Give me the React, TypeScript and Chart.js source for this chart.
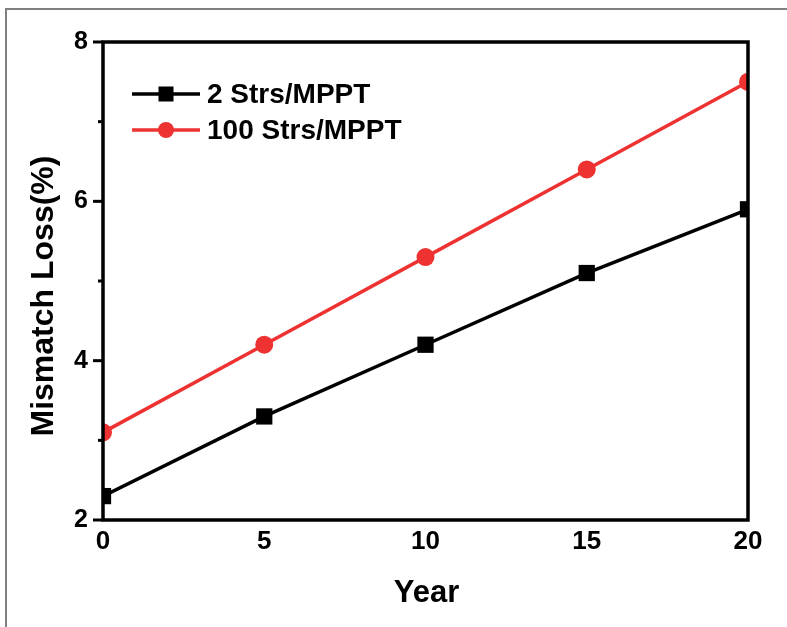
import React, { useEffect, useRef } from "react";
import { Chart, registerables } from "chart.js";

Chart.register(...registerables);

const years = [0, 5, 10, 15, 20];
const loss2Strs = [2.3, 3.3, 4.2, 5.1, 5.9];
const loss100Strs = [3.1, 4.2, 5.3, 6.4, 7.5];
const seriesNames = ["2 Strs/MPPT", "100 Strs/MPPT"];
const xTitle = "Year";
const yTitle = "Mismatch Loss(%)";

const FONT = "'Liberation Sans', Arial, Helvetica, sans-serif";
const RED = "#EE3232";

const framePlugin = {
  id: "framePlugin",
  afterDatasetsDraw(chart: any) {
    const { ctx, chartArea } = chart;
    const { left, right, top, bottom } = chartArea;
    const ys = chart.scales.y;
    ctx.save();
    ctx.strokeStyle = "#000";
    ctx.lineWidth = 3.5;
    ctx.lineJoin = "miter";
    ctx.strokeRect(left, top, right - left, bottom - top);
    // y ticks (major at labeled values, minor between)
    ctx.lineWidth = 3;
    for (let v = ys.min; v <= ys.max + 1e-9; v += 1) {
      const y = ys.getPixelForValue(v);
      const len = Math.round(v) % 2 === 0 ? 10 : 5;
      ctx.beginPath();
      ctx.moveTo(left - len, y);
      ctx.lineTo(left, y);
      ctx.stroke();
    }
    ctx.restore();
  },
  afterDraw(chart: any) {
    const { ctx, chartArea } = chart;
    ctx.save();
    // Axis titles
    ctx.fillStyle = "#000";
    ctx.font = `bold 31px ${FONT}`;
    ctx.textAlign = "center";
    ctx.textBaseline = "alphabetic";
    ctx.fillText(xTitle, (chartArea.left + chartArea.right) / 2 + 1, 602);
    ctx.save();
    ctx.translate(53, 296);
    ctx.rotate(-Math.PI / 2);
    ctx.font = `bold 32px ${FONT}`;
    ctx.fillText(yTitle, 0, 0);
    ctx.restore();

    // Legend
    const rows = [
      { y: 94, color: "#000", style: "rect", label: seriesNames[0] },
      { y: 130, color: RED, style: "circle", label: seriesNames[1] },
    ];
    rows.forEach((r) => {
      ctx.strokeStyle = r.color;
      ctx.fillStyle = r.color;
      ctx.lineWidth = 3.5;
      ctx.beginPath();
      ctx.moveTo(132, r.y);
      ctx.lineTo(200, r.y);
      ctx.stroke();
      if (r.style === "rect") {
        ctx.fillRect(166 - 7.5, r.y - 7.5, 15, 15);
      } else {
        ctx.beginPath();
        ctx.arc(166, r.y, 8, 0, Math.PI * 2);
        ctx.fill();
      }
      ctx.fillStyle = "#000";
      ctx.font = `bold 28px ${FONT}`;
      ctx.textAlign = "left";
      ctx.textBaseline = "middle";
      ctx.fillText(r.label, 207, r.y + 1);
    });
    ctx.restore();
  },
};

export default function App() {
  const canvasRef = useRef<HTMLCanvasElement | null>(null);

  useEffect(() => {
    if (!canvasRef.current) return;
    const chart = new Chart(canvasRef.current, {
      type: "line",
      data: {
        datasets: [
          {
            label: seriesNames[0],
            data: years.map((x, i) => ({ x, y: loss2Strs[i] })),
            borderColor: "#000",
            backgroundColor: "#000",
            borderWidth: 3.5,
            pointStyle: "rect",
            pointRadius: 11.5,
            pointHoverRadius: 11.5,
            pointBorderWidth: 0,
            clip: 0,
          },
          {
            label: seriesNames[1],
            data: years.map((x, i) => ({ x, y: loss100Strs[i] })),
            borderColor: RED,
            backgroundColor: RED,
            borderWidth: 3.5,
            pointStyle: "circle",
            pointRadius: 9,
            pointHoverRadius: 9,
            pointBorderWidth: 0,
            clip: 0,
          },
        ],
      },
      options: {
        responsive: false,
        animation: false,
        devicePixelRatio: 1,
        layout: { padding: { left: 0, top: 42, right: 39, bottom: 0 } },
        plugins: {
          legend: { display: false },
          tooltip: { enabled: false },
        },
        scales: {
          x: {
            type: "linear",
            min: 0,
            max: 20,
            grid: { display: false, drawTicks: false },
            border: { display: false },
            ticks: {
              stepSize: 5,
              color: "#000",
              padding: 6,
              maxRotation: 0,
              font: { family: FONT, size: 26, weight: "bold" },
            },
            afterFit: (s: any) => {
              s.height = 107;
            },
          },
          y: {
            type: "linear",
            min: 2,
            max: 8,
            grid: { display: false, drawTicks: false },
            border: { display: false },
            ticks: {
              stepSize: 1,
              color: "#000",
              padding: 15,
              font: { family: FONT, size: 25, weight: "bold" },
              callback: (v: any) => (Math.round(v) % 2 === 0 ? String(v) : ""),
            },
            afterFit: (s: any) => {
              s.width = 103;
            },
          },
        },
      },
      plugins: [framePlugin],
    });
    return () => chart.destroy();
  }, []);

  return (
    <div
      style={{
        position: "fixed",
        left: 0,
        top: 0,
        width: 787,
        height: 627,
        background: "#fff",
      }}
    >
      <div
        style={{
          position: "absolute",
          left: 5,
          top: 8,
          right: 0,
          bottom: 0,
          borderTop: "2px solid #808080",
          borderLeft: "2px solid #808080",
        }}
      />
      <canvas
        ref={canvasRef}
        width={787}
        height={627}
        style={{ position: "absolute", left: 0, top: 0, display: "block" }}
      />
    </div>
  );
}
